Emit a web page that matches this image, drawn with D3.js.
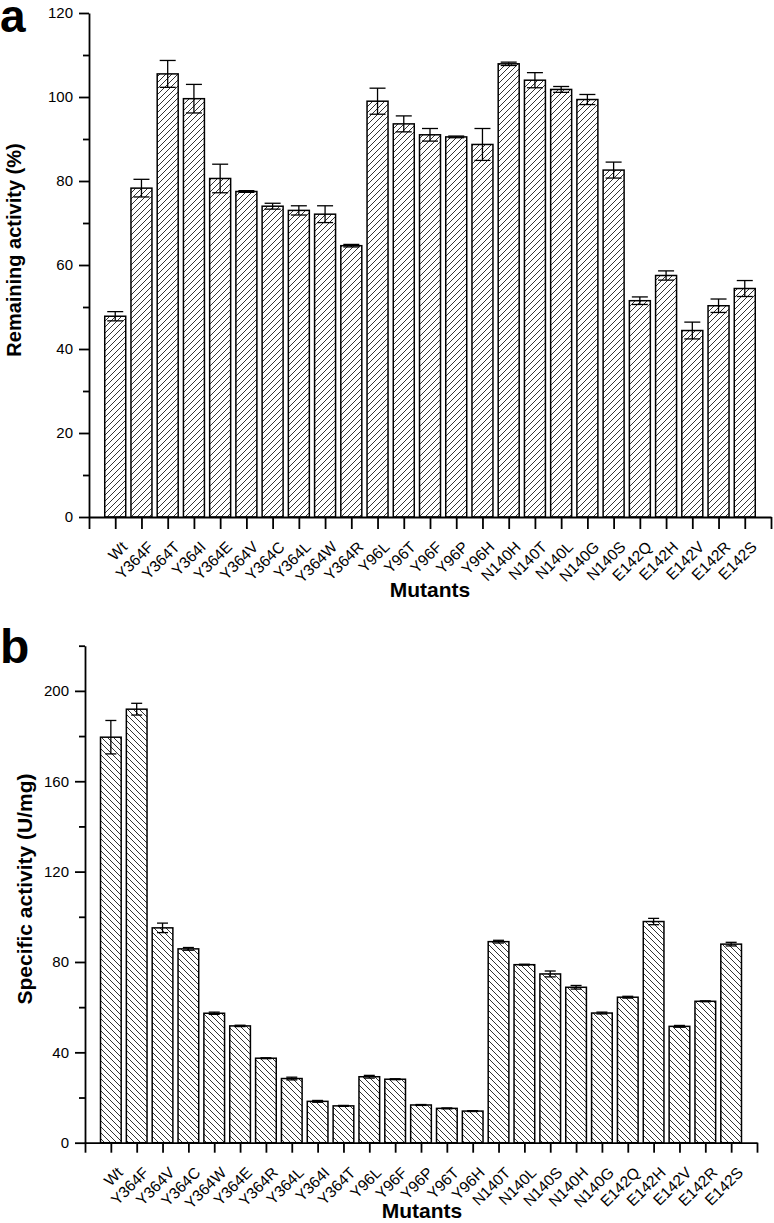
<!DOCTYPE html>
<html><head><meta charset="utf-8">
<script src="https://cdn.jsdelivr.net/npm/d3@7"></script>
<style>body{margin:0;background:#fff}svg{display:block;font-family:"Liberation Sans",Arial,sans-serif}</style>
</head><body>
<svg id="c" width="774" height="1223"></svg>
<script>
const catsA = ["Wt","Y364F","Y364T","Y364I","Y364E","Y364V","Y364C","Y364L","Y364W","Y364R","Y96L","Y96T","Y96F","Y96P","Y96H","N140H","N140T","N140L","N140G","N140S","E142Q","E142H","E142V","E142R","E142S"];
const valsA = [47.8,78.3,105.5,99.6,80.6,77.5,74.0,73.0,72.1,64.6,99.0,93.6,91.0,90.5,88.7,107.9,104.0,101.8,99.4,82.6,51.5,57.5,44.4,50.3,54.4];
const errA  = [1.1,2.1,3.2,3.4,3.4,0.2,0.7,1.1,2.0,0.3,3.1,1.9,1.5,0.2,3.8,0.4,1.8,0.7,1.2,1.9,0.9,1.1,2.0,1.6,1.9];
const ticksA = [0,20,40,60,80,100,120];

const catsB = ["Wt","Y364F","Y364V","Y364C","Y364W","Y364E","Y364R","Y364L","Y364I","Y364T","Y96L","Y96F","Y96P","Y96T","Y96H","N140T","N140L","N140S","N140H","N140G","E142Q","E142H","E142V","E142R","E142S"];
const valsB = [179.5,191.9,95.1,85.8,57.3,51.7,37.4,28.4,18.3,16.3,29.2,28.1,16.7,15.2,14.0,89.0,78.8,74.7,68.8,57.4,64.4,97.9,51.5,62.6,87.9];
const errB  = [7.4,2.6,2.1,0.6,0.5,0.3,0.2,0.6,0.4,0.2,0.6,0.2,0.2,0.2,0.2,0.6,0.2,1.3,0.8,0.4,0.4,1.4,0.4,0.2,0.8];
const ticksB = [0,40,80,120,160,200];

const svg = d3.select("#c");
const defs = svg.append("defs");
function hatch(id, forward){
  const p = defs.append("pattern").attr("id",id).attr("patternUnits","userSpaceOnUse")
    .attr("width",6).attr("height",6);
  p.append("rect").attr("width",6).attr("height",6).attr("fill","#fff");
  p.append("path").attr("d", forward ? "M-1,1 l2,-2 M0,6 l6,-6 M5,7 l2,-2" : "M-1,5 l2,2 M0,0 l6,6 M5,-1 l2,2")
    .attr("stroke","#000").attr("stroke-width",0.8);
}
hatch("hA", true); hatch("hB", false);

function panel(o){
  const g = svg.append("g");
  const x = d3.scaleLinear().domain([0, o.cats.length+1]).range([o.x0, o.x1]);
  const y = d3.scaleLinear().domain([0, o.ymax]).range([o.y0, o.y1]);
  const step = x(1)-x(0), bw = step*0.8;
  g.selectAll("rect.bar").data(o.vals).join("rect")
    .attr("x",(d,i)=>x(i+1)-bw/2).attr("y",d=>y(d))
    .attr("width",bw).attr("height",d=>y(0)-y(d))
    .attr("fill",`url(#${o.pat})`).attr("stroke","#000").attr("stroke-width",1.5);
  const eb = g.selectAll("g.eb").data(o.vals).join("g");
  eb.append("line").attr("x1",(d,i)=>x(i+1)).attr("x2",(d,i)=>x(i+1))
    .attr("y1",(d,i)=>y(d+o.err[i])).attr("y2",(d,i)=>y(d-o.err[i]))
    .attr("stroke","#000").attr("stroke-width",1.3);
  [1,-1].forEach(s=>{
    eb.append("line").attr("x1",(d,i)=>x(i+1)-o.cap/2).attr("x2",(d,i)=>x(i+1)+o.cap/2)
      .attr("y1",(d,i)=>y(d+s*o.err[i])).attr("y2",(d,i)=>y(d+s*o.err[i]))
      .attr("stroke","#000").attr("stroke-width",1.3);
  });
  const ya = d3.axisLeft(y).tickValues(o.yticks).tickSize(10).tickPadding(6).tickSizeOuter(0);
  const yg = g.append("g").attr("transform",`translate(${o.x0},0)`).call(ya);
  const yminor = g.append("g").attr("transform",`translate(${o.x0},0)`)
    .call(d3.axisLeft(y).tickValues(o.minor).tickSize(6).tickFormat("").tickSizeOuter(0));
  yminor.select(".domain").remove();
  const xa = d3.axisBottom(x).tickValues(d3.range(0,o.cats.length+2)).tickSize(o.xtick).tickFormat("").tickSizeOuter(0);
  const xg = g.append("g").attr("transform",`translate(0,${o.y0})`).call(xa);
  [yg,xg,yminor].forEach(a=>{
    a.selectAll("path,line").attr("stroke","#000").attr("stroke-width",1.8);
    a.selectAll("text").attr("font-size",15).attr("fill","#000").attr("font-family","Liberation Sans, Arial, sans-serif");
  });
  g.selectAll("text.xl").data(o.cats).join("text")
    .attr("text-anchor","end").attr("font-size",15.5)
    .attr("transform",(d,i)=>`translate(${x(i+1)+13},${o.y0+31}) rotate(-45)`)
    .text(d=>d);
  g.append("text").attr("x",o.mx).attr("y",o.my).attr("text-anchor","middle")
    .attr("font-weight","bold").attr("font-size",21).text("Mutants");
  g.append("text").attr("transform",`translate(${o.tx},${o.ty}) rotate(-90)`).attr("text-anchor","middle")
    .attr("font-weight","bold").attr("font-size",o.tfs).text(o.title);
  g.append("text").attr("x",o.lx).attr("y",o.ly).attr("font-weight","bold").attr("font-size",o.lfs).text(o.label);
}

panel({cats:catsA, vals:valsA, err:errA, ymax:120, yticks:ticksA, minor:[10,30,50,70,90,110],
  x0:89, x1:771, y0:517, y1:13, pat:"hA", cap:16, xtick:12,
  mx:430, my:597, tx:21, ty:250, tfs:20, title:"Remaining activity (%)", lx:0, ly:32, lfs:46, label:"a"});
panel({cats:catsB, vals:valsB, err:errB, ymax:220, yticks:ticksB, minor:[20,60,100,140,180,220],
  x0:85, x1:757, y0:1142.7, y1:645.7, pat:"hB", cap:11, xtick:10,
  mx:422, my:1218, tx:32, ty:889, tfs:21, title:"Specific activity (U/mg)", lx:0, ly:663, lfs:48, label:"b"});
</script>
</body></html>
